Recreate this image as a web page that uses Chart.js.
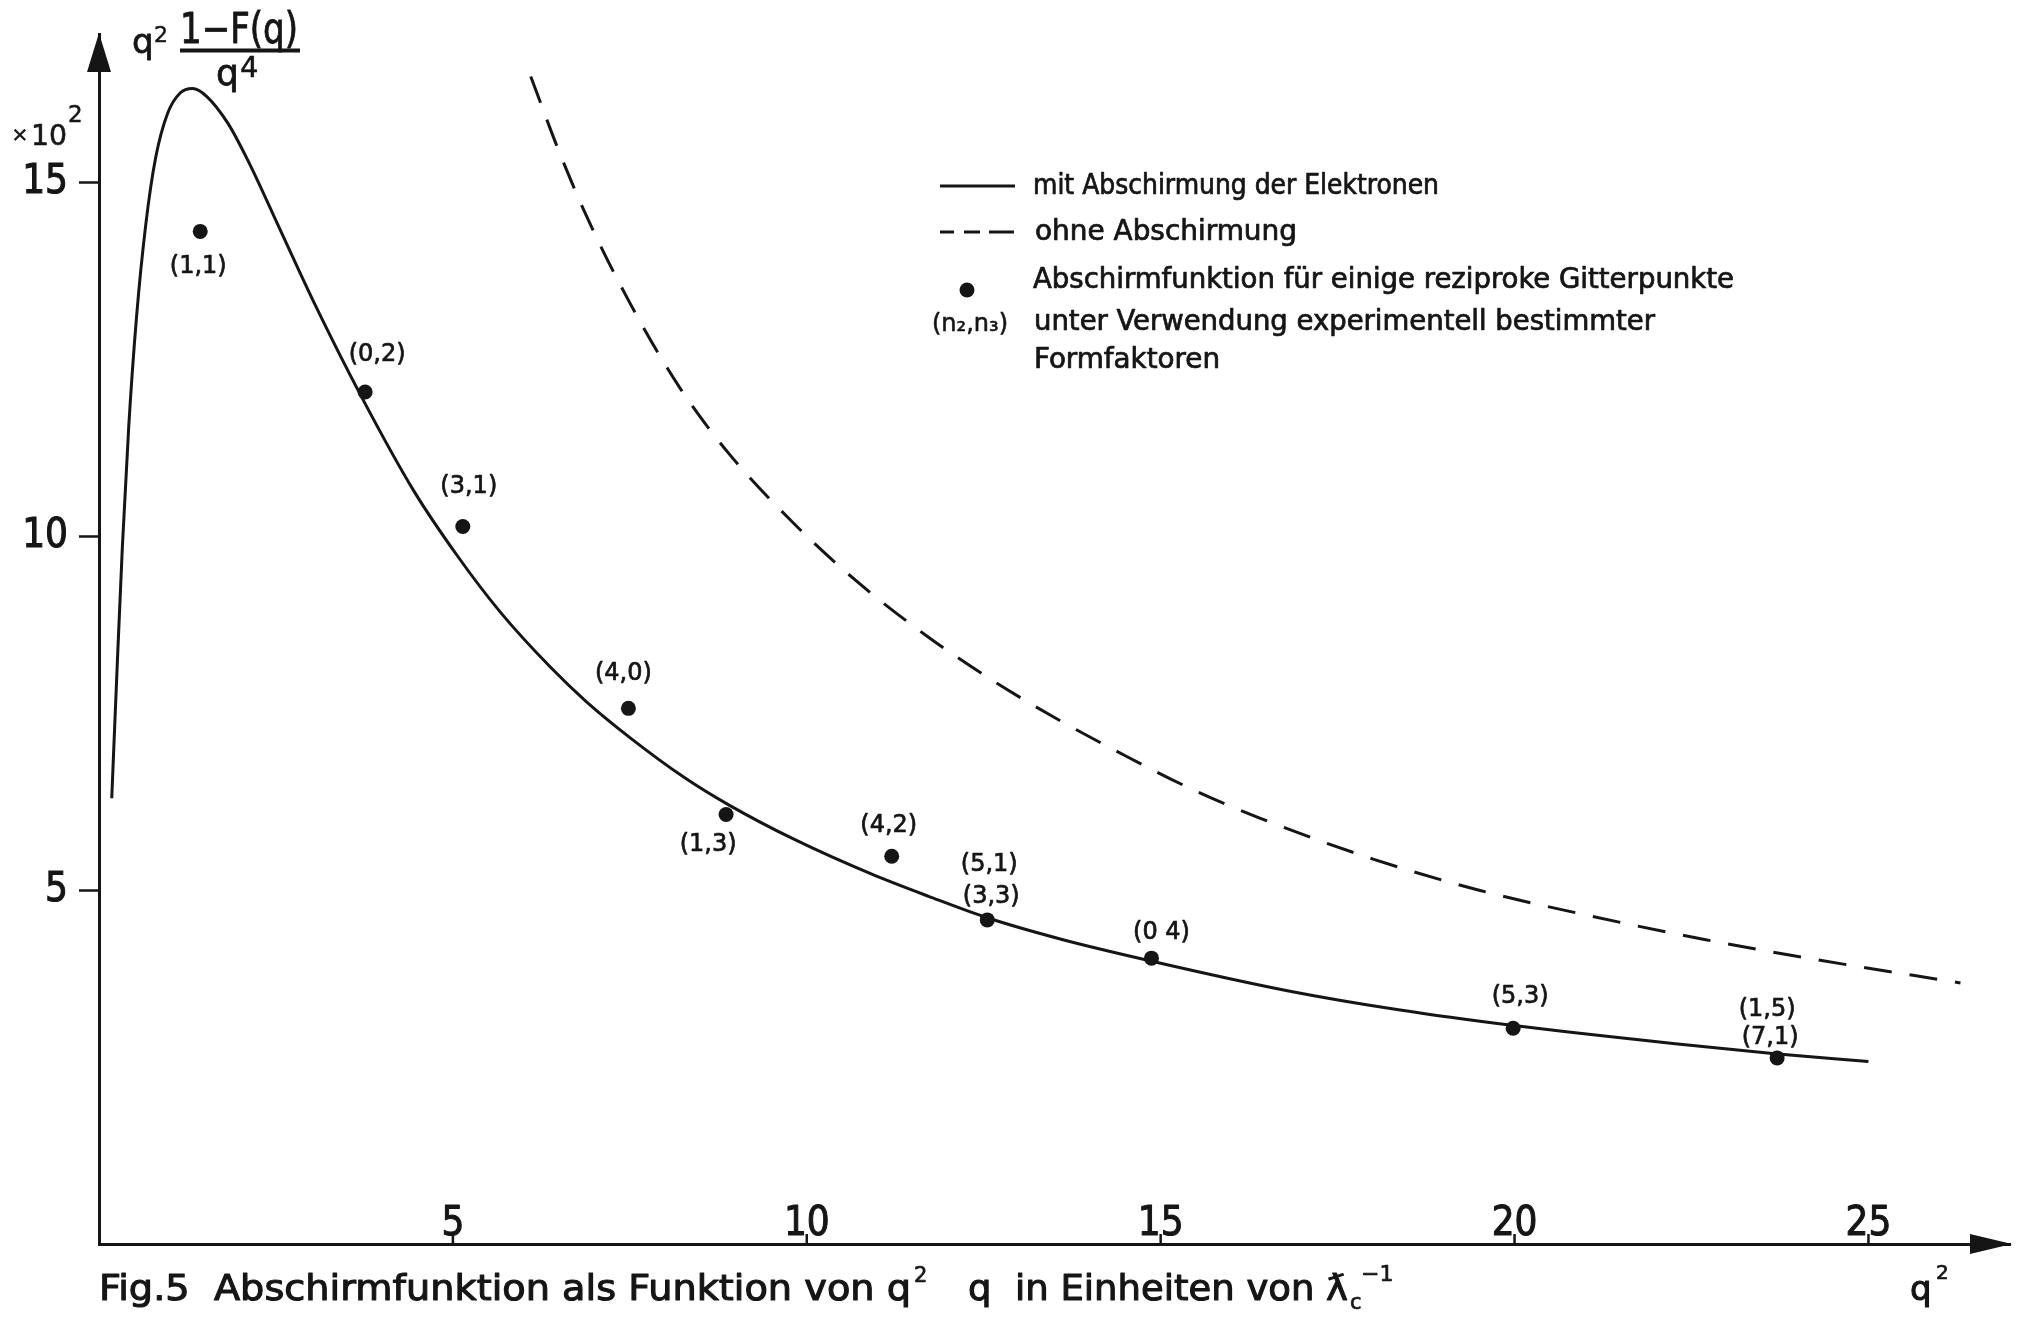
<!DOCTYPE html>
<html lang="de">
<head>
<meta charset="utf-8">
<title>Abschirmfunktion als Funktion von q²</title>
<script src="https://cdn.jsdelivr.net/npm/chart.js@4.4.1/dist/chart.umd.min.js"></script>
<style>
  html, body { margin: 0; padding: 0; background: #fff; }
  canvas { display: block; }
</style>
</head>
<body>
<canvas id="fig5" width="2020" height="1318"></canvas>
<script>
// q² in Einheiten von ƛc⁻², Ordinate: q² (1 − F(q)) / q⁴ in Einheiten von 10²

// mit Abschirmung der Elektronen
const screenedQ2 = [0.18, 0.25, 0.33, 0.42, 0.53, 0.66, 0.80, 0.97, 1.15, 1.32, 1.52, 1.82, 2.10, 2.57,
  3.04, 3.70, 4.45, 5.06, 5.67, 6.38, 6.88, 7.51, 8.26, 8.89, 9.84, 10.91, 11.73, 12.55, 13.62,
  14.86, 16.79, 18.36, 19.96, 22.27, 23.68, 25.0];
const screenedValues = [6.30, 8.00, 9.85, 11.55, 13.10, 14.40, 15.35, 15.98, 16.27, 16.33, 16.22, 15.84, 15.32, 14.31,
  13.30, 11.99, 10.64, 9.73, 8.93, 8.15, 7.67, 7.15, 6.60, 6.21, 5.71, 5.23, 4.91, 4.61, 4.30,
  4.00, 3.58, 3.31, 3.09, 2.83, 2.69, 2.58];

// ohne Abschirmung
const unscreenedQ2 = [6.1, 6.5, 6.9, 7.5, 8.2, 8.9, 9.8, 10.7, 11.7, 12.6, 13.5, 14.5, 15.5, 16.4,
  18.0, 19.5, 21.1, 22.7, 24.2, 26.3];
const unscreenedValues = [16.50, 15.44, 14.50, 13.30, 12.11, 11.17, 10.20, 9.37, 8.59, 7.98, 7.44, 6.90, 6.40, 6.02,
  5.44, 5.00, 4.63, 4.30, 4.03, 3.69];

// reziproke Gitterpunkte (n2, n3) mit experimentell bestimmten Formfaktoren
const latticeQ2 = [1.43, 3.76, 5.14, 7.48, 8.86, 11.20, 12.55, 14.87, 19.98, 23.71];
const latticeValues = [14.31, 12.04, 10.14, 7.57, 6.07, 5.48, 4.58, 4.04, 3.05, 2.63];
const latticeLabels = [['(1,1)'], ['(0,2)'], ['(3,1)'], ['(4,0)'], ['(1,3)'], ['(4,2)'],
  ['(5,1)', '(3,3)'], ['(0 4)'], ['(5,3)'], ['(1,5)', '(7,1)']];

// Achsenteilung
const xTickValues = [5, 10, 15, 20, 25];
const yTickValues = [5, 10, 15];

// Lage der Beschriftungen relativ zum Punkt (Pixel), je Zeile
const labelOffsets = [
  [[-2, 35]], [[12, -37]], [[6, -40]], [[-5, -35]], [[-18, 30]], [[-3, -30]],
  [[2, -55], [4, -23]], [[10, -25]], [[7, -31]], [[-10, -48], [-7, -20]]
];

const INK = '#151515';
const NARROW = "'Liberation Sans Narrow', 'DejaVu Sans Condensed', 'DejaVu Sans', sans-serif";
const SANS = "'DejaVu Sans', 'Liberation Sans', sans-serif";
const COND = "'DejaVu Sans Condensed', 'DejaVu Sans', sans-serif";

const toPoints = (xs, ys) => xs.map((x, i) => ({ x: x, y: ys[i] }));

// Text auf eine vorgegebene Breite bringen; optional mit Kontur für kräftigere Striche
function fitText(ctx, text, x, y, width, font, stroke) {
  ctx.save();
  ctx.font = font;
  ctx.textAlign = 'left';
  ctx.textBaseline = 'alphabetic';
  const w = ctx.measureText(text).width;
  ctx.translate(x, y);
  ctx.scale(width / w, 1);
  if (stroke) {
    ctx.lineWidth = stroke;
    ctx.lineJoin = 'round';
    ctx.strokeText(text, 0, 0);
  }
  ctx.fillText(text, 0, 0);
  ctx.restore();
}

function plainText(ctx, text, x, y, font, align, stroke) {
  ctx.save();
  ctx.font = font;
  ctx.textAlign = align || 'left';
  ctx.textBaseline = 'alphabetic';
  if (stroke) {
    ctx.lineWidth = stroke;
    ctx.lineJoin = 'round';
    ctx.strokeText(text, x, y);
  }
  ctx.fillText(text, x, y);
  ctx.restore();
}

// Punktbeschriftungen (n2, n3)
const pointLabelPlugin = {
  id: 'pointLabels',
  afterDatasetsDraw(chart) {
    const ctx = chart.ctx;
    const meta = chart.getDatasetMeta(0);
    ctx.save();
    ctx.fillStyle = INK;
    ctx.strokeStyle = INK;
    ctx.lineWidth = 0.7;
    ctx.lineJoin = 'round';
    ctx.font = '24px ' + SANS;
    ctx.textAlign = 'center';
    ctx.textBaseline = 'middle';
    meta.data.forEach((el, i) => {
      latticeLabels[i].forEach((line, j) => {
        const off = labelOffsets[i][j];
        ctx.strokeText(line, el.x + off[0], el.y + off[1]);
        ctx.fillText(line, el.x + off[0], el.y + off[1]);
      });
    });
    ctx.restore();
  }
};

// Abszissenteilung: Striche nach innen, Zahlen oberhalb der Achse
const xTickPlugin = {
  id: 'xTicksInside',
  afterDraw(chart) {
    const ctx = chart.ctx;
    const xs = chart.scales.x;
    const bottom = chart.chartArea.bottom;
    ctx.save();
    ctx.strokeStyle = INK;
    ctx.fillStyle = INK;
    ctx.font = '40px ' + NARROW;
    ctx.textAlign = 'center';
    ctx.textBaseline = 'alphabetic';
    ctx.lineJoin = 'round';
    xTickValues.forEach(v => {
      const px = xs.getPixelForValue(v);
      ctx.lineWidth = 2.5;
      ctx.beginPath();
      ctx.moveTo(px, bottom);
      ctx.lineTo(px, bottom - 10);
      ctx.stroke();
      ctx.lineWidth = 1;
      ctx.strokeText(String(v), px, bottom - 9);
      ctx.fillText(String(v), px, bottom - 9);
    });
    ctx.restore();
  }
};

// Pfeile, Achsentitel, Legende und Bildunterschrift
const decorPlugin = {
  id: 'decor',
  afterDraw(chart) {
    const ctx = chart.ctx;
    const area = chart.chartArea;
    ctx.save();
    ctx.fillStyle = INK;
    ctx.strokeStyle = INK;

    // Pfeilspitze der Ordinate
    ctx.beginPath();
    ctx.moveTo(area.left, area.top - 1);
    ctx.lineTo(area.left - 12, area.top + 38);
    ctx.lineTo(area.left + 12, area.top + 38);
    ctx.closePath();
    ctx.fill();

    // Pfeilspitze der Abszisse
    ctx.beginPath();
    ctx.moveTo(area.right + 2, area.bottom);
    ctx.lineTo(area.right - 40, area.bottom - 10);
    ctx.lineTo(area.right - 40, area.bottom + 10);
    ctx.closePath();
    ctx.fill();

    // Ordinatentitel q² (1−F(q)) / q⁴
    plainText(ctx, 'q', 132, 53, '34px ' + SANS, 'left', 0.8);
    plainText(ctx, '2', 154, 42, '22px ' + SANS, 'left', 0.5);
    fitText(ctx, '1\u2212F(q)', 180, 43, 118, '42px ' + COND, 0.8);
    ctx.fillRect(180, 48.5, 120, 4);
    plainText(ctx, 'q', 216, 85, '36px ' + SANS, 'left', 0.8);
    plainText(ctx, '4', 240, 77, '29px ' + SANS, 'left', 0.5);

    // Einheit ×10²
    plainText(ctx, '\u00d7', 20, 141, '20px ' + SANS, 'center', 0.6);
    fitText(ctx, '10', 31, 145, 36, '28px ' + SANS, 0.6);
    plainText(ctx, '2', 68, 122, '23px ' + SANS, 'left', 0.5);

    // Legende
    ctx.lineWidth = 3;
    ctx.beginPath();
    ctx.moveTo(940, 186);
    ctx.lineTo(1015, 186);
    ctx.stroke();
    [[940, 954], [964, 980], [989, 1014]].forEach(seg => {
      ctx.beginPath();
      ctx.moveTo(seg[0], 232);
      ctx.lineTo(seg[1], 232);
      ctx.stroke();
    });
    ctx.beginPath();
    ctx.arc(967, 290, 7.5, 0, Math.PI * 2);
    ctx.fill();
    fitText(ctx, '(n\u2082,n\u2083)', 932, 331, 76, '25px ' + SANS, 0.6);

    const legendFont = '28px ' + COND;
    fitText(ctx, 'mit Abschirmung der Elektronen', 1033, 194, 406, legendFont, 0.7);
    fitText(ctx, 'ohne Abschirmung', 1035, 240, 262, legendFont, 0.7);
    fitText(ctx, 'Abschirmfunktion f\u00fcr einige reziproke Gitterpunkte', 1033, 288, 701, legendFont, 0.7);
    fitText(ctx, 'unter Verwendung experimentell bestimmter', 1034, 330, 621, legendFont, 0.7);
    fitText(ctx, 'Formfaktoren', 1034, 368, 186, legendFont, 0.7);

    // Bildunterschrift
    const capFont = '36px ' + SANS;
    fitText(ctx, 'Fig.5  Abschirmfunktion als Funktion von q', 99, 1300, 812, capFont, 1.1);
    plainText(ctx, '2', 914, 1282, '21px ' + SANS, 'left', 0.7);
    fitText(ctx, 'q  in Einheiten von \u019b', 968, 1300, 380, capFont, 1.1);
    plainText(ctx, 'c', 1350, 1309, '21px ' + SANS, 'left', 0.7);
    plainText(ctx, '\u22121', 1361, 1281, '22px ' + SANS, 'left', 0.7);

    // Abszissentitel q²
    plainText(ctx, 'q', 1910, 1300, '34px ' + SANS, 'left', 1.1);
    plainText(ctx, '2', 1936, 1279, '20px ' + SANS, 'left', 0.7);

    ctx.restore();
  }
};

new Chart(document.getElementById('fig5'), {
  type: 'scatter',
  data: {
    datasets: [
      {
        label: 'Gitterpunkte',
        data: toPoints(latticeQ2, latticeValues),
        pointRadius: 7.5,
        pointBackgroundColor: INK,
        pointBorderWidth: 0,
        showLine: false
      },
      {
        label: 'mit Abschirmung der Elektronen',
        data: toPoints(screenedQ2, screenedValues),
        showLine: true,
        borderColor: INK,
        borderWidth: 3,
        pointRadius: 0,
        cubicInterpolationMode: 'monotone',
        fill: false
      },
      {
        label: 'ohne Abschirmung',
        data: toPoints(unscreenedQ2, unscreenedValues),
        showLine: true,
        borderColor: INK,
        borderWidth: 3,
        borderDash: [28, 18],
        pointRadius: 0,
        cubicInterpolationMode: 'monotone',
        fill: false
      }
    ]
  },
  options: {
    responsive: false,
    animation: false,
    devicePixelRatio: 1,
    layout: { padding: { top: 34, right: 10, left: 0, bottom: 0 } },
    plugins: {
      legend: { display: false },
      tooltip: { enabled: false },
      title: { display: false }
    },
    scales: {
      x: {
        type: 'linear',
        position: 'bottom',
        min: 0,
        max: 27,
        afterFit: scale => { scale.height = 74; },
        border: { display: true, color: INK, width: 3 },
        grid: { display: false },
        ticks: { display: false, stepSize: 5, includeBounds: false }
      },
      y: {
        type: 'linear',
        position: 'left',
        min: 0,
        max: 17.1,
        afterFit: scale => { scale.width = 99; },
        border: { display: true, color: INK, width: 3 },
        grid: {
          display: true,
          drawOnChartArea: false,
          drawTicks: true,
          tickLength: 20,
          tickWidth: 2.5,
          tickColor: c => (c.tick && yTickValues.includes(c.tick.value)) ? INK : 'rgba(0,0,0,0)'
        },
        ticks: {
          stepSize: 5,
          includeBounds: false,
          padding: 11,
          color: INK,
          textStrokeColor: INK,
          textStrokeWidth: 1,
          font: { family: NARROW, size: 40, lineHeight: 1 },
          callback: v => yTickValues.includes(v) ? String(v) : ''
        }
      }
    }
  },
  plugins: [pointLabelPlugin, xTickPlugin, decorPlugin]
});
</script>
</body>
</html>
